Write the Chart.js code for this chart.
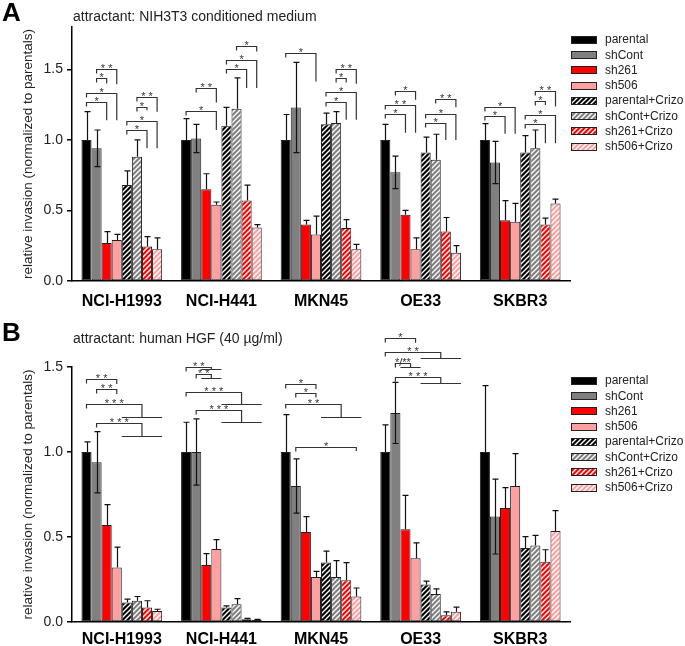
<!DOCTYPE html>
<html>
<head>
<meta charset="utf-8">
<script src="https://cdn.jsdelivr.net/npm/chart.js@4.4.1/dist/chart.umd.min.js"></script>
<style>
body{margin:0;background:#fff;}
#wrap{position:relative;width:685px;height:646px;font-family:"Liberation Sans",Arial,sans-serif;}
canvas{position:absolute;left:0;}
.lbl{position:absolute;line-height:1;white-space:nowrap;color:#000;}
</style>
</head>
<body>
<div id="wrap">
<canvas id="chartA" width="685" height="320" style="top:0"></canvas>
<canvas id="chartB" width="685" height="326" style="top:320px"></canvas>
<div class="lbl" style="left:2px;top:-1px;font-size:26px;font-weight:bold">A</div>
<div class="lbl" style="left:73px;top:9px;font-size:14px;color:#222">attractant: NIH3T3 conditioned medium</div>
<div class="lbl" style="left:2px;top:319px;font-size:26px;font-weight:bold">B</div>
<div class="lbl" style="left:73px;top:331px;font-size:14px;color:#222">attractant: human HGF (40 µg/ml)</div>
</div>
<script>
const cellLines = ['NCI-H1993', 'NCI-H441', 'MKN45', 'OE33', 'SKBR3'];
const seriesNames = ['parental', 'shCont', 'sh261', 'sh506', 'parental+Crizo', 'shCont+Crizo', 'sh261+Crizo', 'sh506+Crizo'];

// panel A - NIH3T3 conditioned medium, means
const aParental   = [1.00, 1.00, 1.00, 1.00, 1.00];
const aShCont     = [0.94, 1.01, 1.23, 0.77, 0.84];
const aSh261      = [0.27, 0.65, 0.40, 0.47, 0.43];
const aSh506      = [0.29, 0.54, 0.33, 0.225, 0.42];
const aParCrizo   = [0.68, 1.10, 1.11, 0.91, 0.91];
const aShContCrizo= [0.88, 1.22, 1.12, 0.86, 0.94];
const aSh261Crizo = [0.245, 0.57, 0.375, 0.35, 0.40];
const aSh506Crizo = [0.225, 0.38, 0.225, 0.20, 0.55];
// panel A, SD
const aErrParental   = [0.20, 0.15, 0.18, 0.11, 0.115];
const aErrShCont     = [0.13, 0.10, 0.32, 0.115, 0.15];
const aErrSh261      = [0.08, 0.11, 0.03, 0.03, 0.14];
const aErrSh506      = [0.04, 0.02, 0.13, 0.08, 0.13];
const aErrParCrizo   = [0.10, 0.13, 0.08, 0.11, 0.12];
const aErrShContCrizo= [0.12, 0.22, 0.08, 0.18, 0.13];
const aErrSh261Crizo = [0.07, 0.11, 0.06, 0.10, 0.045];
const aErrSh506Crizo = [0.08, 0.02, 0.035, 0.05, 0.03];

// panel B - human HGF, means
const bParental   = [1.00, 1.00, 1.00, 1.00, 1.00];
const bShCont     = [0.94, 1.00, 0.80, 1.23, 0.62];
const bSh261      = [0.57, 0.335, 0.53, 0.545, 0.67];
const bSh506      = [0.32, 0.43, 0.265, 0.375, 0.80];
const bParCrizo   = [0.115, 0.085, 0.35, 0.22, 0.435];
const bShContCrizo= [0.125, 0.105, 0.265, 0.165, 0.45];
const bSh261Crizo = [0.085, 0.016, 0.245, 0.04, 0.355];
const bSh506Crizo = [0.065, 0.012, 0.15, 0.06, 0.535];
// panel B, SD
const bErrParental   = [0.06, 0.175, 0.22, 0.16, 0.39];
const bErrShCont     = [0.18, 0.195, 0.16, 0.18, 0.22];
const bErrSh261      = [0.12, 0.067, 0.09, 0.20, 0.12];
const bErrSh506      = [0.12, 0.055, 0.033, 0.09, 0.19];
const bErrParCrizo   = [0.02, 0.01, 0.067, 0.02, 0.067];
const bErrShContCrizo= [0.025, 0.033, 0.096, 0.03, 0.06];
const bErrSh261Crizo = [0.04, 0.005, 0.104, 0.02, 0.07];
const bErrSh506Crizo = [0.01, 0.004, 0.05, 0.027, 0.12];

// significance brackets: [cell line, bar from, bar to, top value, right leg value, label]
const sigA = [
  [0,0,2,1.27,1.14,'*'], [0,0,3,1.335,1.14,'*'], [0,1,2,1.437,1.40,'*'], [0,1,3,1.503,1.395,'**'],
  [0,4,6,1.071,0.94,'*'], [0,4,7,1.137,0.94,'*'], [0,5,6,1.236,1.21,'*'], [0,5,7,1.303,1.20,'**'],
  [1,0,3,1.208,1.07,'*'], [1,1,3,1.371,1.265,'**'], [1,4,6,1.503,1.367,'*'], [1,4,7,1.567,1.367,'*'], [1,5,7,1.662,1.626,'*'],
  [2,0,3,1.615,1.414,'*'], [2,4,6,1.272,1.142,'*'], [2,4,7,1.338,1.142,'*'], [2,5,6,1.437,1.407,'*'], [2,5,7,1.503,1.397,'**'],
  [3,0,2,1.18,1.05,'*'], [3,0,3,1.248,1.05,'**'], [3,1,3,1.343,1.284,'*'], [3,4,6,1.118,1.0,'*'], [3,4,7,1.184,1.0,'*'], [3,5,7,1.289,1.232,'**'],
  [4,0,2,1.17,1.043,'*'], [4,0,3,1.236,1.043,'*'], [4,4,6,1.111,0.977,'*'], [4,4,7,1.177,0.977,'*'], [4,5,6,1.279,1.248,'*'], [4,5,7,1.348,1.236,'**']
];
const sigB = [
  [0,0,3,1.428,1.40,'**'], [0,1,3,1.369,1.341,'**'],
  [2,0,3,1.398,1.37,'*'], [2,1,3,1.349,1.32,'*'], [2,1,7,1.028,1.006,'*'],
  [3,0,3,1.669,1.643,'*']
];
// bar vs group of bars: [cell line, bar, group first, group last, top value, group line value, label]
const sigGroupB = [
  [0,0,4,7,1.28,1.208,'***'], [0,1,4,7,1.169,1.096,'***'],
  [1,0,2,3,1.502,1.486,'**'], [1,1,2,3,1.457,1.433,'**'], [1,0,4,7,1.355,1.282,'***'], [1,1,4,7,1.247,1.178,'***'],
  [2,0,4,7,1.28,1.208,'**'],
  [3,0,4,7,1.59,1.555,'**'], [3,1,2,3,1.525,1.502,'*/**'], [3,1,4,7,1.443,1.408,'***']
];

const FONT = '"Liberation Sans", Arial, sans-serif';

function hatch(bg) {
  const s = 5;
  const c = document.createElement('canvas');
  c.width = s; c.height = s;
  const g = c.getContext('2d');
  g.fillStyle = bg;
  g.fillRect(0, 0, s, s);
  g.strokeStyle = '#fff';
  g.lineWidth = 1.4;
  g.beginPath();
  g.moveTo(0, s); g.lineTo(s, 0);
  g.moveTo(-1, 1); g.lineTo(1, -1);
  g.moveTo(s - 1, s + 1); g.lineTo(s + 1, s - 1);
  g.stroke();
  return g.createPattern(c, 'repeat');
}

const fills = ['#000000', '#808080', '#ff0000', '#ffa0a0',
  hatch('#000000'), hatch('#808080'), hatch('#ff0000'), hatch('#ffa0a0')];

function makeDatasets(means, errs) {
  return means.map((m, i) => ({
    label: seriesNames[i],
    data: m,
    errors: errs[i],
    bothWays: i === 1,
    backgroundColor: fills[i],
    borderColor: '#222',
    borderWidth: 1,
    borderSkipped: false,
    categoryPercentage: 0.81,
    barPercentage: 1.0
  }));
}

const errorBars = {
  id: 'errorBars',
  afterDatasetsDraw(chart) {
    const ctx = chart.ctx, y = chart.scales.y;
    ctx.save();
    ctx.strokeStyle = '#111';
    ctx.lineWidth = 1.2;
    chart.data.datasets.forEach((ds, i) => {
      chart.getDatasetMeta(i).data.forEach((bar, j) => {
        const v = ds.data[j], e = ds.errors[j];
        const x = Math.round(bar.x) + 0.5;
        const yt = y.getPixelForValue(v + e);
        const yb = ds.bothWays ? y.getPixelForValue(v - e) : bar.y;
        ctx.beginPath();
        ctx.moveTo(x, yb); ctx.lineTo(x, yt);
        ctx.moveTo(x - 3, yt); ctx.lineTo(x + 3, yt);
        if (ds.bothWays) { ctx.moveTo(x - 3, yb); ctx.lineTo(x + 3, yb); }
        ctx.stroke();
      });
    });
    ctx.restore();
  }
};

function starText(ctx, txt, x, y) {
  ctx.font = '11px ' + FONT;
  ctx.textAlign = 'center';
  ctx.textBaseline = 'alphabetic';
  ctx.fillStyle = '#333';
  const shown = /^\*+$/.test(txt) ? txt.split('').join(' ') : txt;
  ctx.fillText(shown, x, y + 4);
}

const brackets = {
  id: 'brackets',
  afterDatasetsDraw(chart, args, opts) {
    const ctx = chart.ctx, y = chart.scales.y;
    const bar = (b, g) => chart.getDatasetMeta(b).data[g];
    ctx.save();
    ctx.strokeStyle = '#333';
    ctx.lineWidth = 1.2;
    (opts.simple || []).forEach(([g, a, b, top, leg, lab]) => {
      const xa = bar(a, g).x, xb = bar(b, g).x;
      const yt = Math.round(y.getPixelForValue(top)) + 0.5;
      const yl = y.getPixelForValue(leg);
      ctx.beginPath();
      ctx.moveTo(xa, yt + 4); ctx.lineTo(xa, yt); ctx.lineTo(xb, yt); ctx.lineTo(xb, yl);
      ctx.stroke();
      starText(ctx, lab, (xa + xb) / 2, yt - 2);
    });
    (opts.group || []).forEach(([g, a, f, t, top, gy, lab]) => {
      const w = bar(f, g).width;
      const xa = bar(a, g).x;
      const xf = bar(f, g).x - w / 2, xt = bar(t, g).x + w / 2, xm = (xf + xt) / 2;
      const yt = Math.round(y.getPixelForValue(top)) + 0.5;
      const yg = Math.round(y.getPixelForValue(gy)) + 0.5;
      ctx.beginPath();
      ctx.moveTo(xa, yt + 4); ctx.lineTo(xa, yt); ctx.lineTo(xm, yt); ctx.lineTo(xm, yg);
      ctx.moveTo(xf, yg); ctx.lineTo(xt, yg);
      ctx.stroke();
      starText(ctx, lab, (xa + xm) / 2, yt - 2);
    });
    ctx.restore();
  }
};

const boxLegend = {
  id: 'boxLegend',
  afterDraw(chart, args, opts) {
    const ctx = chart.ctx;
    ctx.save();
    chart.data.datasets.forEach((ds, i) => {
      const yc = opts.y + i * 15.24;
      ctx.fillStyle = ds.backgroundColor;
      ctx.fillRect(571, Math.round(yc - 4), 26, 8);
      ctx.strokeStyle = '#222';
      ctx.lineWidth = 1;
      ctx.strokeRect(571.5, Math.round(yc - 4) + 0.5, 25, 7);
      ctx.fillStyle = '#222';
      ctx.font = '12px ' + FONT;
      ctx.textAlign = 'left';
      ctx.textBaseline = 'middle';
      ctx.fillText(ds.label, 605, yc);
    });
    ctx.restore();
  }
};

function makeChart(id, means, errs, yMax, padTop, xHeight, labelPad, legendY, simple, group) {
  return new Chart(document.getElementById(id), {
    type: 'bar',
    data: { labels: cellLines, datasets: makeDatasets(means, errs) },
    plugins: [errorBars, brackets, boxLegend],
    options: {
      responsive: false,
      animation: false,
      devicePixelRatio: 1,
      layout: { padding: { top: padTop, right: 115, left: 0, bottom: 0 } },
      plugins: {
        legend: { display: false },
        tooltip: { enabled: false },
        brackets: { simple: simple, group: group },
        boxLegend: { y: legendY }
      },
      scales: {
        x: {
          afterFit(s) { s.height = xHeight; },
          grid: { display: false, drawTicks: false },
          border: { display: true, color: '#000', width: 1.5 },
          ticks: { color: '#000', padding: labelPad, font: { family: FONT, size: 16, weight: 'bold' } }
        },
        y: {
          min: 0,
          max: yMax,
          afterFit(s) { s.width = 72; },
          grid: { display: true, drawOnChartArea: false, drawTicks: true, tickLength: 5, color: '#000', lineWidth: 1.5 },
          border: { display: true, color: '#000', width: 1.5 },
          ticks: {
            stepSize: 0.5, includeBounds: false, padding: 4, color: '#222',
            font: { family: FONT, size: 14 },
            callback: v => Number(v).toFixed(1)
          },
          title: {
            display: true,
            text: 'relative invasion (normalized to parentals)',
            color: '#222',
            padding: { top: 20, bottom: 0 },
            font: { family: FONT, size: 13.5 }
          }
        }
      }
    }
  });
}

makeChart('chartA',
  [aParental, aShCont, aSh261, aSh506, aParCrizo, aShContCrizo, aSh261Crizo, aSh506Crizo],
  [aErrParental, aErrShCont, aErrSh261, aErrSh506, aErrParCrizo, aErrShContCrizo, aErrSh261Crizo, aErrSh506Crizo],
  1.8, 27, 39, 11, 40, sigA, []);

makeChart('chartB',
  [bParental, bShCont, bSh261, bSh506, bParCrizo, bShContCrizo, bSh261Crizo, bSh506Crizo],
  [bErrParental, bErrShCont, bErrSh261, bErrSh506, bErrParCrizo, bErrShContCrizo, bErrSh261Crizo, bErrSh506Crizo],
  1.5, 47, 24, 8, 61, sigB, sigGroupB);
</script>
</body>
</html>
